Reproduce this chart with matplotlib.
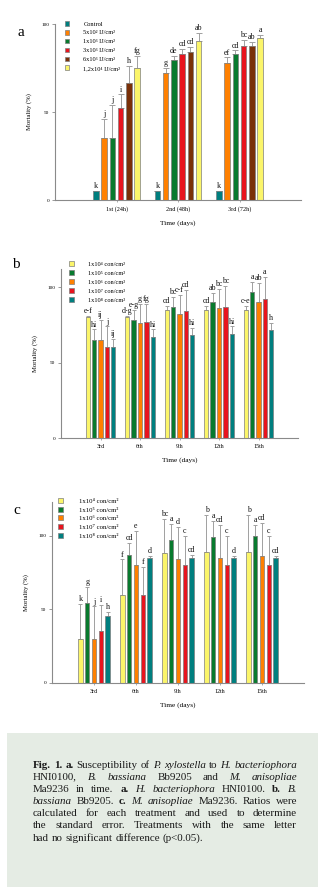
import matplotlib
matplotlib.use("Agg")
import matplotlib.pyplot as plt
from matplotlib.patches import Rectangle, Patch
import numpy as np

plt.rcParams['font.family'] = ['Liberation Serif', 'DejaVu Serif']

W, H = 320, 891

# ---------------- data ----------------
# Panel a: H. bacteriophora
a_groups = ['1st (24h)', '2nd (48h)', '3rd (72h)']
a_series = ['Control', '5x10² IJ/cm²', '1x10³ IJ/cm²',
            '3x10³ IJ/cm²', '6x10³ IJ/cm²', '1,2x10⁴ IJ/cm²']
a_control = [5, 5, 5]
a_5e2 = [35, 72, 78]
a_1e3 = [35, 79.5, 83]
a_3e3 = [52, 83, 87.5]
a_6e3 = [66.5, 84, 87.5]
a_12e4 = [75, 90.6, 92]
a_err_control = [0, 0, 0]
a_err_5e2 = [11, 3, 3]
a_err_1e3 = [19, 2.5, 2]
a_err_3e3 = [8, 3, 3.5]
a_err_6e3 = [9.5, 3, 2.5]
a_err_12e4 = [7, 4.5, 2]
a_let_control = ['k', 'k', 'k']
a_let_5e2 = ['j', 'g', 'ef']
a_let_1e3 = ['j', 'de', 'cd']
a_let_3e3 = ['i', 'cd', 'bc']
a_let_6e3 = ['h', 'cd', 'ab']
a_let_12e4 = ['fg', 'ab', 'a']

# Panel b: B. bassiana
b_groups = ['3rd', '6th', '9th', '12th', '15th']
bc_series = ['1x10⁴ con/cm²', '1x10⁵ con/cm²', '1x10⁶ con/cm²',
             '1x10⁷ con/cm²', '1x10⁸ con/cm²']
b_1e4 = [80, 80, 85, 85, 85]
b_1e5 = [65, 78, 87, 90, 97]
b_1e6 = [65, 76, 82, 86, 90]
b_1e7 = [60, 77, 84, 87, 92]
b_1e8 = [60, 67, 68, 69, 71.5]
b_err_1e4 = [1, 1, 2.5, 2.5, 2.5]
b_err_1e5 = [7, 7, 6.5, 6, 6.5]
b_err_1e6 = [13, 13, 13, 13, 13]
b_err_1e7 = [14, 12, 14, 14, 14.5]
b_err_1e8 = [5.5, 5, 5, 5, 4.5]
b_let_1e4 = ['e-f', 'd-g', 'cd', 'cd', 'c-e']
b_let_1e5 = ['hi', 'e-g', 'bc', 'ab', 'a']
b_let_1e6 = ['ij', 'g', 'c-f', 'bc', 'ab']
b_let_1e7 = ['j', 'fg', 'cd', 'bc', 'a']
b_let_1e8 = ['ij', 'hi', 'hi', 'hi', 'h']

# Panel c: M. anisopliae
c_groups = ['3rd', '6th', '9th', '12th', '15th']
c_1e4 = [30, 60, 88.4, 89, 89]
c_1e5 = [54.6, 87, 97, 99.5, 100]
c_1e6 = [30, 80, 84, 85, 86]
c_1e7 = [35, 60, 80, 80, 80]
c_1e8 = [45.6, 85, 85, 85, 85]
c_err_1e4 = [24, 24, 23, 25.5, 25.5]
c_err_1e5 = [10.5, 8, 11, 10.5, 7.5]
c_err_1e6 = [22, 23.5, 22, 22.5, 23]
c_err_1e7 = [18, 19, 20, 20, 20]
c_err_1e8 = [2.5, 1.5, 2, 1.5, 1.5]
c_let_1e4 = ['k', 'f', 'bc', 'b', 'b']
c_let_1e5 = ['g', 'cd', 'a', 'a', 'a']
c_let_1e6 = ['j', 'e', 'd', 'cd', 'cd']
c_let_1e7 = ['i', 'f', 'c', 'c', 'c']
c_let_1e8 = ['h', 'd', 'cd', 'd', 'cd']

# ---------------- styles ----------------
TEAL = '#007f7f'
ORANGE = '#ff8000'
GREEN = '#087a2e'
RED = '#e8141e'
BROWN = '#7a3008'
YELLOW = '#fbf56a'
EDGE = '#7f7f7f'
ERRC = '#a0a0a0'
SPINE = '#8a8a8a'

fig = plt.figure(figsize=(W / 100, H / 100), dpi=100)


def make_ax(left, top, right, bottom):
    return fig.add_axes([left / W, 1 - bottom / H, (right - left) / W, (bottom - top) / H])


def panel(ax, groups, vals, errs, lets, colors, labels, pitch, width, ylim, xlim,
          capsize, leg_anchor, leg_fs, leg_spacing, handletextpad):
    n = len(vals)
    x = np.arange(len(groups))
    for j in range(n):
        xs = x + (j - (n - 1) / 2) * pitch
        ax.bar(xs, vals[j], width=width, color=colors[j], edgecolor=EDGE,
               linewidth=0.5, label=labels[j], zorder=2)
        e = np.array(errs[j], dtype=float)
        ax.errorbar(xs, vals[j], yerr=[np.zeros_like(e), e], fmt='none', ecolor=ERRC,
                    elinewidth=0.7, capsize=capsize, capthick=0.7, zorder=1, clip_on=False)
        for xi, v, ei, lt in zip(xs, vals[j], e, lets[j]):
            ax.annotate(lt, (xi, v + ei), xytext=(0, 0.6), textcoords='offset points',
                        ha='center', va='bottom', fontsize=5.8, color='#111111',
                        annotation_clip=False)
    ax.set_xlim(*xlim)
    ax.set_ylim(*ylim)
    ax.set_yticks([0, 50, 100])
    ax.set_xticks(x)
    ax.set_xticklabels(groups)
    for s in ['top', 'right']:
        ax.spines[s].set_visible(False)
    for s in ['left', 'bottom']:
        ax.spines[s].set_color(SPINE)
        ax.spines[s].set_linewidth(0.8)
    ax.tick_params(axis='y', length=2, width=0.6, color=SPINE, labelsize=3.8, pad=2)
    ax.tick_params(axis='x', length=1.5, width=0.5, color=SPINE, labelsize=4.3, pad=3)
    ax.set_ylabel('Mortality (%)', fontsize=4.8, labelpad=7)
    ax.set_xlabel('Time (days)', fontsize=5.3, labelpad=6)
    ax.legend(handles=[Patch(facecolor=c, edgecolor=EDGE, linewidth=0.5) for c in colors],
              labels=labels, loc='upper left', bbox_to_anchor=leg_anchor,
              bbox_transform=fig.transFigure, frameon=False, fontsize=leg_fs,
              handlelength=0.75, handleheight=0.75, handletextpad=handletextpad,
              labelspacing=leg_spacing, borderpad=0, borderaxespad=0)
    return ax


# Panel a
ax_a = make_ax(55, 24, 301, 200)
panel(ax_a, a_groups,
      [a_control, a_5e2, a_1e3, a_3e3, a_6e3, a_12e4],
      [a_err_control, a_err_5e2, a_err_1e3, a_err_3e3, a_err_6e3, a_err_12e4],
      [a_let_control, a_let_5e2, a_let_1e3, a_let_3e3, a_let_6e3, a_let_12e4],
      [TEAL, ORANGE, GREEN, RED, BROWN, YELLOW], a_series,
      0.134, 0.092, (0, 100), (-1, 3), 1.9, (64.5 / W, 1 - 21 / H), 4.6, 0.52, 2.2)
ax_a.tick_params(axis='x', labelsize=4.4)

# Panel b
ax_b = make_ax(61, 269, 298, 438)
panel(ax_b, b_groups,
      [b_1e4, b_1e5, b_1e6, b_1e7, b_1e8],
      [b_err_1e4, b_err_1e5, b_err_1e6, b_err_1e7, b_err_1e8],
      [b_let_1e4, b_let_1e5, b_let_1e6, b_let_1e7, b_let_1e8],
      [YELLOW, GREEN, ORANGE, RED, TEAL], bc_series,
      0.162, 0.109, (0, 112), (-1, 5), 1.6, (69 / W, 1 - 261 / H), 4.6, 0.55, 2.2)

# Panel c
ax_c = make_ax(52, 502, 304, 683)
panel(ax_c, c_groups,
      [c_1e4, c_1e5, c_1e6, c_1e7, c_1e8],
      [c_err_1e4, c_err_1e5, c_err_1e6, c_err_1e7, c_err_1e8],
      [c_let_1e4, c_let_1e5, c_let_1e6, c_let_1e7, c_let_1e8],
      [YELLOW, GREEN, ORANGE, RED, TEAL], bc_series,
      0.161, 0.103, (0, 123), (-1, 5), 1.6, (58 / W, 1 - 498 / H), 4.9, 0.42, 2.3)

# panel letters
fig.text(21 / W, 1 - 32 / H, 'a', fontsize=11, ha='center', va='center')
fig.text(16 / W, 1 - 265 / H, 'b', fontsize=11, ha='center', va='center')
fig.text(17 / W, 1 - 510 / H, 'c', fontsize=11, ha='center', va='center')

# ---------------- caption ----------------
fig.patches.append(Rectangle((7 / W, 1 - 887 / H), (318 - 7) / W, (887 - 733) / H,
                             transform=fig.transFigure, facecolor='#e5ece4',
                             edgecolor='none', zorder=0))

cap_lines = [
    [('Fig.', 'b'), ('1.', 'b'), ('a.', 'b'), ('Susceptibility', 'r'), ('of', 'r'),
     ('P.', 'i'), ('xylostella', 'i'), ('to', 'r'), ('H.', 'i'), ('bacteriophora', 'i')],
    [('HNI0100,', 'r'), ('B.', 'i'), ('bassiana', 'i'), ('Bb9205', 'r'), ('and', 'r'),
     ('M.', 'i'), ('anisopliae', 'i')],
    [('Ma9236', 'r'), ('in', 'r'), ('time.', 'r'), ('a.', 'b'), ('H.', 'i'),
     ('bacteriophora', 'i'), ('HNI0100.', 'r'), ('b.', 'b'), ('B.', 'i')],
    [('bassiana', 'i'), ('Bb9205.', 'r'), ('c.', 'b'), ('M.', 'i'), ('anisopliae', 'i'),
     ('Ma9236.', 'r'), ('Ratios', 'r'), ('were', 'r')],
    [('calculated', 'r'), ('for', 'r'), ('each', 'r'), ('treatment', 'r'), ('and', 'r'),
     ('used', 'r'), ('to', 'r'), ('determine', 'r')],
    [('the', 'r'), ('standard', 'r'), ('error.', 'r'), ('Treatments', 'r'), ('with', 'r'),
     ('the', 'r'), ('same', 'r'), ('letter', 'r')],
    [('had', 'r'), ('no', 'r'), ('significant', 'r'), ('difference', 'r'), ('(p<0.05).', 'r')],
]

renderer = fig.canvas.get_renderer()


def style_kw(st):
    if st == 'b':
        return dict(fontweight='bold', fontstyle='normal')
    if st == 'i':
        return dict(fontweight='normal', fontstyle='italic')
    return dict(fontweight='normal', fontstyle='normal')


def text_w(s, st, fs):
    t = fig.text(0, 0, s, fontsize=fs, **style_kw(st))
    w = t.get_window_extent(renderer).width
    t.remove()
    return w


x0, x1 = 33, 297
# choose the size so the widest line (with normal spaces) just fits the column
ref_fs = 10.0
sp10 = text_w('a a', 'r', ref_fs) - text_w('aa', 'r', ref_fs)
nat = []
for line in cap_lines:
    nat.append(sum(text_w(w, st, ref_fs) for w, st in line) + sp10 * (len(line) - 1))
CAP_FS = min(ref_fs * (x1 - x0 - 2) / max(nat), 8.8)

space_w = text_w('a a', 'r', CAP_FS) - text_w('aa', 'r', CAP_FS)
y0, dy = 765, 12.2
for li, line in enumerate(cap_lines):
    widths = [text_w(w, st, CAP_FS) for w, st in line]
    if li < len(cap_lines) - 1:
        gap = (x1 - x0 - sum(widths)) / (len(line) - 1)
    else:
        gap = space_w
    x = x0
    y = y0 + li * dy
    for (w, st), ww in zip(line, widths):
        fig.text(x / W, 1 - y / H, w, fontsize=CAP_FS, ha='left', va='center',
                 color='#1a1a1a', **style_kw(st))
        x += ww + gap

fig.savefig('out.png', dpi=100)
